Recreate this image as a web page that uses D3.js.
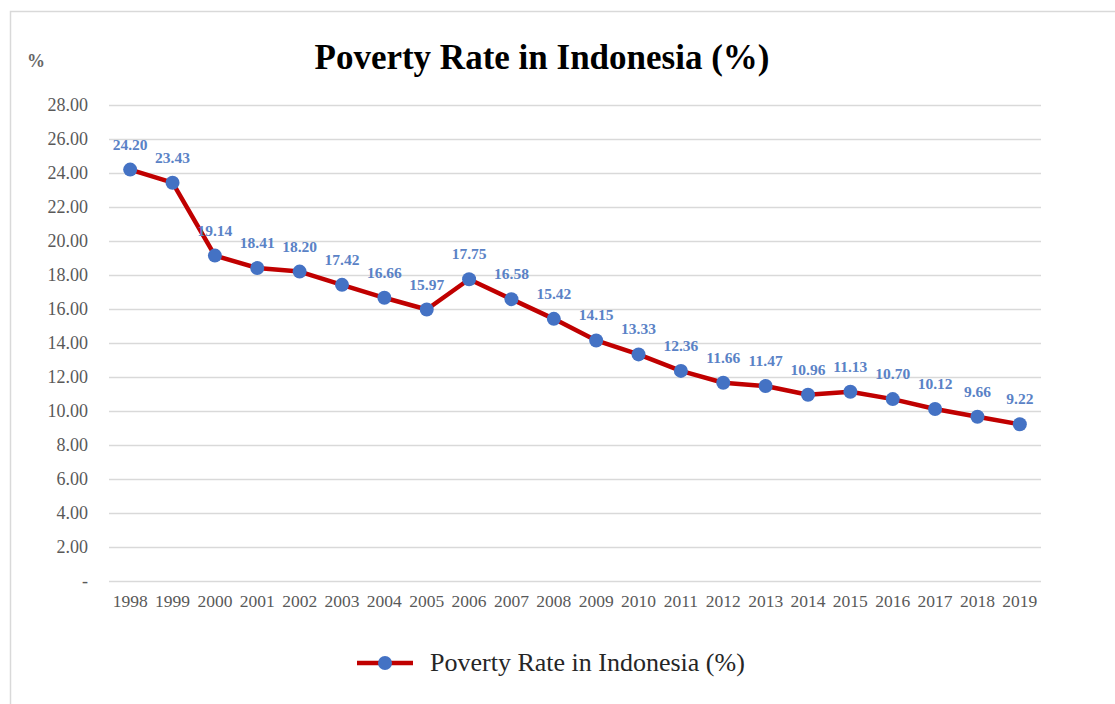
<!DOCTYPE html>
<html>
<head>
<meta charset="utf-8">
<script src="https://cdn.jsdelivr.net/npm/d3@7"></script>
<style>
  body { margin: 0; background: #fff; }
  svg text { font-family: "Liberation Serif", "Times New Roman", serif; }
</style>
</head>
<body>
<svg id="chart"></svg>
<script>
const years = ['1998', '1999', '2000', '2001', '2002', '2003', '2004', '2005', '2006', '2007', '2008',
    '2009', '2010', '2011', '2012', '2013', '2014', '2015', '2016', '2017', '2018', '2019'];
const povertyRate = [24.20, 23.43, 19.14, 18.41, 18.20, 17.42, 16.66, 15.97, 17.75, 16.58, 15.42,
    14.15, 13.33, 12.36, 11.66, 11.47, 10.96, 11.13, 10.70, 10.12, 9.66, 9.22];
const yTicks = [0, 2, 4, 6, 8, 10, 12, 14, 16, 18, 20, 22, 24, 26, 28];
const seriesName = 'Poverty Rate in Indonesia (%)';

const width = 1115, height = 704;
const svg = d3.select('#chart').attr('width', width).attr('height', height);

// outer frame
svg.append('rect')
    .attr('x', 10.5).attr('y', 11.5)
    .attr('width', width).attr('height', height)
    .attr('fill', 'none')
    .attr('stroke', '#d9d9d9')
    .attr('stroke-width', 1.5);

const x = d3.scaleBand().domain(years).range([109, 1041]);
const y = d3.scaleLinear().domain([0, 28]).range([581, 105]);

// title
svg.append('text')
    .attr('x', 542).attr('y', 69)
    .attr('text-anchor', 'middle')
    .attr('font-size', 35)
    .attr('font-weight', 'bold')
    .attr('fill', '#000')
    .text(seriesName);

svg.append('text')
    .attr('x', 36).attr('y', 67)
    .attr('text-anchor', 'middle')
    .attr('font-size', 18)
    .attr('font-weight', 'bold')
    .attr('fill', '#666')
    .text('%');

// y axis with gridlines
const yAxis = svg.append('g')
    .attr('transform', 'translate(109,0)')
    .call(d3.axisLeft(y)
        .tickValues(yTicks)
        .tickSize(-(1041 - 109))
        .tickPadding(21)
        .tickFormat(d => d === 0 ? '-' : d3.format('.2f')(d)));
yAxis.select('.domain').remove();
yAxis.selectAll('.tick line').attr('stroke', '#d9d9d9').attr('stroke-width', 1.3);
yAxis.selectAll('.tick text')
    .attr('font-size', 18)
    .attr('fill', '#595959')
    .style('font-family', '"Liberation Serif", serif');

// x axis labels
const xAxis = svg.append('g')
    .attr('transform', 'translate(0,581)')
    .call(d3.axisBottom(x).tickSize(0).tickPadding(14));
xAxis.select('.domain').remove();
xAxis.selectAll('.tick text')
    .attr('font-size', 17.5)
    .attr('fill', '#595959')
    .style('font-family', '"Liberation Serif", serif');

const cx = d => x(d) + x.bandwidth() / 2;
const points = years.map((yr, i) => ({ year: yr, value: povertyRate[i] }));

// series line
svg.append('path')
    .datum(points)
    .attr('fill', 'none')
    .attr('stroke', '#c00000')
    .attr('stroke-width', 4.5)
    .attr('stroke-linejoin', 'round')
    .attr('d', d3.line().x(d => cx(d.year)).y(d => y(d.value)));

svg.append('g').selectAll('circle')
    .data(points)
    .join('circle')
    .attr('cx', d => cx(d.year))
    .attr('cy', d => y(d.value))
    .attr('r', 7)
    .attr('fill', '#4472c4');

// data labels
svg.append('g').selectAll('text')
    .data(points)
    .join('text')
    .attr('x', d => cx(d.year))
    .attr('y', d => y(d.value) - 20)
    .attr('text-anchor', 'middle')
    .attr('font-size', 15.5)
    .attr('font-weight', 'bold')
    .attr('fill', '#5a82c6')
    .text(d => d3.format('.2f')(d.value));

// legend
const legend = svg.append('g').attr('transform', 'translate(357,663)');
legend.append('line')
    .attr('x1', 0).attr('x2', 56)
    .attr('stroke', '#c00000')
    .attr('stroke-width', 4.5);
legend.append('circle')
    .attr('cx', 28).attr('r', 7)
    .attr('fill', '#4472c4');
legend.append('text')
    .attr('x', 73).attr('y', 8)
    .attr('font-size', 26)
    .attr('fill', '#262626')
    .text(seriesName);
</script>
</body>
</html>
